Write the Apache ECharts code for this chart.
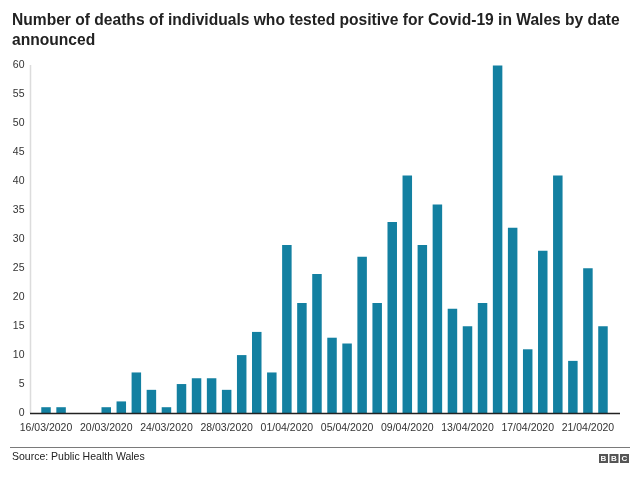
<!DOCTYPE html>
<html>
<head>
<meta charset="utf-8">
<script src="https://cdn.jsdelivr.net/npm/echarts@6/dist/echarts.min.js"></script>
<style>
html,body{margin:0;padding:0;background:#fff;}
#chart{width:640px;height:477px;}
</style>
</head>
<body>
<div id="chart"></div>
<script>
const titleText = 'Number of deaths of individuals who tested positive for Covid-19 in Wales by date\nannounced';
const sourceText = 'Source: Public Health Wales';
const categories = [
  '16/03/2020','17/03/2020','18/03/2020','19/03/2020','20/03/2020','21/03/2020','22/03/2020','23/03/2020',
  '24/03/2020','25/03/2020','26/03/2020','27/03/2020','28/03/2020','29/03/2020','30/03/2020','31/03/2020',
  '01/04/2020','02/04/2020','03/04/2020','04/04/2020','05/04/2020','06/04/2020','07/04/2020','08/04/2020',
  '09/04/2020','10/04/2020','11/04/2020','12/04/2020','13/04/2020','14/04/2020','15/04/2020','16/04/2020',
  '17/04/2020','18/04/2020','19/04/2020','20/04/2020','21/04/2020','22/04/2020'
];
const deaths = [
  1, 1, 0, 0, 1, 2, 7, 4,
  1, 5, 6, 6, 4, 10, 14, 7,
  29, 19, 24, 13, 12, 27, 19, 33,
  41, 29, 36, 18, 15, 19, 60, 32,
  11, 28, 41, 9, 25, 15
];
const yTicks = { min: 0, max: 60, interval: 5 };

const FONT = '"Liberation Sans", Arial, Helvetica, sans-serif';
const chart = echarts.init(document.getElementById('chart'), null, { renderer: 'canvas' });

const option = {
  backgroundColor: '#ffffff',
  animation: false,
  title: {
    text: titleText,
    left: 12,
    top: 11,
    padding: 0,
    textStyle: { fontFamily: FONT, fontSize: 15.6, fontWeight: 'bold', color: '#222222', lineHeight: 20 }
  },
  grid: { left: 38.5, right: 29.5, top: 65.5, bottom: 64 },
  xAxis: {
    type: 'category',
    data: categories,
    boundaryGap: true,
    axisLine: { show: false },
    axisTick: { show: false },
    axisLabel: {
      interval: 3,
      margin: 10,
      fontFamily: FONT,
      fontSize: 10.5,
      color: '#333333'
    },
    splitLine: { show: false }
  },
  yAxis: {
    type: 'value',
    min: yTicks.min,
    max: yTicks.max,
    interval: yTicks.interval,
    axisLine: { show: false },
    axisTick: { show: false },
    splitLine: { show: false },
    axisLabel: {
      margin: 14,
      fontFamily: FONT,
      fontSize: 10.5,
      color: '#333333'
    }
  },
  series: [{
    type: 'bar',
    data: deaths,
    barWidth: 9.5,
    itemStyle: { color: '#1380A1' }
  }],
  graphic: [
    { type: 'line', shape: { x1: 30.5, y1: 65, x2: 30.5, y2: 413 }, style: { stroke: '#dcdcdc', lineWidth: 1.5 }, z: 1 },
    { type: 'line', shape: { x1: 30, y1: 413.5, x2: 620, y2: 413.5 }, style: { stroke: '#222222', lineWidth: 1.5 }, z: 10 },
    { type: 'line', shape: { x1: 10, y1: 447.5, x2: 630, y2: 447.5 }, style: { stroke: '#7a7a7a', lineWidth: 1 } },
    { type: 'text', left: 12, top: 452, style: { text: sourceText, font: '10.5px ' + FONT, fill: '#222222' } },
    { type: 'group', left: 599, top: 454, children: [
      { type: 'rect', shape: { x: 0, y: 0, width: 9, height: 9 }, style: { fill: '#555555' } },
      { type: 'rect', shape: { x: 10.5, y: 0, width: 9, height: 9 }, style: { fill: '#555555' } },
      { type: 'rect', shape: { x: 21, y: 0, width: 9, height: 9 }, style: { fill: '#555555' } },
      { type: 'text', x: 4.5, y: 5, style: { text: 'B', font: 'bold 8px ' + FONT, fill: '#ffffff', align: 'center', verticalAlign: 'middle' } },
      { type: 'text', x: 15, y: 5, style: { text: 'B', font: 'bold 8px ' + FONT, fill: '#ffffff', align: 'center', verticalAlign: 'middle' } },
      { type: 'text', x: 25.5, y: 5, style: { text: 'C', font: 'bold 8px ' + FONT, fill: '#ffffff', align: 'center', verticalAlign: 'middle' } }
    ]}
  ]
};
chart.setOption(option);
</script>
</body>
</html>
